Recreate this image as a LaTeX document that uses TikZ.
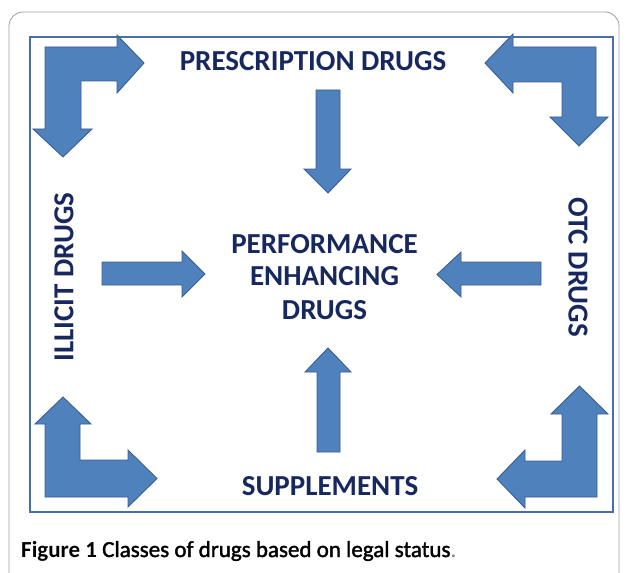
\documentclass[tikz,border=0pt]{standalone}
\usepackage{fontspec}
\setmainfont{Carlito}
\newfontface\capmed[FakeBold=1.6]{Carlito}
\definecolor{arrowfill}{HTML}{4F81BD}
\definecolor{arrowline}{HTML}{3A5E8E}
\definecolor{framecol}{HTML}{4A6FA6}
\definecolor{navy}{HTML}{17285F}
\tikzset{
  blockarrow/.style={fill=arrowfill, draw=arrowline, line width=0.9pt, line join=miter},
  lbl/.style={text=navy, font=\fontsize{29}{33}\selectfont\bfseries, inner sep=0pt, anchor=base},
  vlbl/.style={text=navy, font=\fontsize{29}{33}\selectfont\bfseries, inner sep=0pt},
}
\begin{document}
\begin{tikzpicture}[x=1pt,y=-1pt]
\useasboundingbox (0,0) rectangle (628,572);
\fill[white] (0,0) rectangle (628,572);
\begin{scope}
\clip (0,0) rectangle (628,572);
\draw[gray!75, line width=0.8pt, rounded corners=14pt] (9,12) rectangle (619,610);
\end{scope}
% inner frame
\draw[framecol, line width=2pt] (30,37) rectangle (613,512);

% corner arrows
\draw[blockarrow] (45,47) -- (117,47) -- (117,35) -- (144,63) -- (117,93) -- (117,81)
  -- (81,81) -- (81,129) -- (92,129) -- (63,157) -- (33,129) -- (45,129) -- cycle;
\draw[blockarrow] (596,47) -- (513,47) -- (513,34) -- (485,63) -- (513,93) -- (513,82)
  -- (562,82) -- (562,117) -- (550,117) -- (579,146) -- (608,117) -- (596,117) -- cycle;
\draw[blockarrow] (45,497) -- (45,424) -- (35,424) -- (63,397) -- (91,424) -- (80,424)
  -- (80,460) -- (128,460) -- (128,450) -- (157,478.5) -- (128,507) -- (128,497) -- cycle;
\draw[blockarrow] (597,497) -- (597,414) -- (608,414) -- (579.5,386) -- (551,414) -- (562,414)
  -- (562,461) -- (525,461) -- (525,450) -- (497,479) -- (525,508) -- (525,497) -- cycle;

% centre arrows
\draw[blockarrow] (316,90) -- (340,90) -- (340,169) -- (351,169) -- (328,193) -- (304,169) -- (316,169) -- cycle;
\draw[blockarrow] (317,452) -- (317,372) -- (305,372) -- (328,348) -- (351,372) -- (340,372) -- (340,452) -- cycle;
\draw[blockarrow] (102,262) -- (182,262) -- (182,251) -- (205,274) -- (182,297) -- (182,285) -- (102,285) -- cycle;
\draw[blockarrow] (541,262) -- (461,262) -- (461,252) -- (437,274.5) -- (461,297) -- (461,285) -- (541,285) -- cycle;

% labels
\node[lbl] (presc) at (313,71) {PRESCRIPTION DRUGS};
\node[lbl] (perf) at (324.5,253) {PERFORMANCE};
\node[lbl] (enh) at (324.5,285) {ENHANCING};
\node[lbl] (drugs) at (324.5,319) {DRUGS};
\node[lbl] (supp) at (330,495) {SUPPLEMENTS};
\node[vlbl, rotate=90] (illicit) at (64,277) {ILLICIT DRUGS};
\node[vlbl, rotate=-90] (otc) at (578,267) {OTC DRUGS};

% caption
\node[anchor=base west, inner sep=0pt, font=\fontsize{23}{27}\selectfont] (cap) at (21,557)
  {\textbf{Figure 1} {\capmed Classes of drugs based on legal status}\textcolor{gray}{.}};
\end{tikzpicture}
\end{document}
